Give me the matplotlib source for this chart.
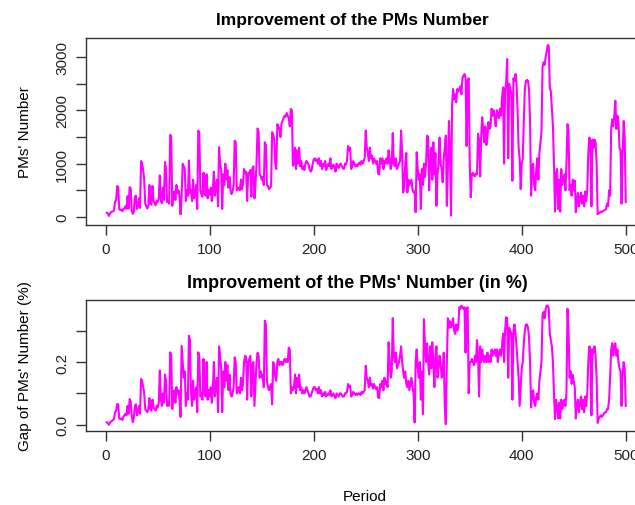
import matplotlib
matplotlib.use("Agg")
import matplotlib.pyplot as plt
import numpy as np

plt.rcParams["font.family"] = ["Liberation Sans", "DejaVu Sans"]

# Number of PMs per period
pms_number = [
    80, 70, 20, 60, 90, 100, 110, 120, 290, 310,
    580, 560, 150, 130, 140, 110, 150, 160, 200, 150,
    390, 160, 560, 540, 120, 60, 100, 380, 400, 150,
    200, 350, 170, 1050, 1000, 880, 700, 250, 200, 160,
    220, 600, 250, 230, 580, 300, 260, 220, 300, 280,
    350, 780, 300, 260, 550, 320, 1030, 900, 280, 300,
    250, 1540, 1500, 210, 450, 480, 320, 600, 450, 500,
    380, 50, 400, 1000, 950, 900, 300, 500, 400, 1060,
    450, 500, 300, 700, 350, 450, 600, 150, 1620, 1580,
    500, 420, 380, 830, 450, 400, 800, 350, 500, 420,
    550, 300, 500, 850, 400, 600, 700, 200, 1310, 1000,
    900, 150, 800, 600, 1000, 700, 880, 550, 750, 500,
    430, 480, 600, 1430, 1400, 500, 520, 550, 500, 700,
    520, 620, 900, 830, 850, 300, 820, 830, 880, 380,
    900, 950, 350, 600, 1000, 1660, 1600, 800, 770, 700,
    750, 600, 1400, 1350, 600, 580, 520, 550, 580, 1590,
    1550, 1450, 1000, 900, 1740, 1700, 1650, 1500, 1750, 1800,
    1850, 1900, 1880, 1950, 1900, 1850, 1700, 2025, 2000, 960,
    1000, 1300, 900, 1250, 1000, 1300, 950, 1050, 900, 950,
    880, 1000, 1050, 1020, 980, 900, 850, 880, 1000, 1080,
    1100, 1050, 1080, 1000, 1100, 960, 1050, 900, 1000, 950,
    1050, 880, 950, 1000, 950, 1100, 900, 950, 980, 920,
    850, 1000, 950, 920, 980, 1000, 950, 920, 900, 1000,
    980, 1050, 1330, 1250, 1300, 900, 950, 1050, 1000, 950,
    980, 950, 1000, 1020, 980, 1050, 1000, 1050, 1100, 1620,
    1300, 1200, 1050, 1300, 1100, 1150, 1000, 1100, 1050, 1000,
    1050, 810, 800, 1100, 1000, 1100, 900, 1050, 1000, 1100,
    1000, 1250, 1100, 900, 1000, 1575, 1000, 950, 1100, 900,
    950, 1000, 1050, 1620, 1200, 460, 550, 1000, 1200, 460,
    700, 600, 650, 700, 500, 460, 480, 90, 1214, 900,
    700, 800, 150, 900, 600, 1000, 750, 1000, 1525, 1500,
    500, 1100, 1300, 700, 1400, 800, 1200, 210, 800, 1000,
    1490, 1000, 900, 650, 1100, 1300, 1525, 210, 900, 1800,
    1200, 25, 2100, 2400, 2200, 2300, 2150, 2400, 2350, 2400,
    2450, 2300, 2600, 2650, 2680, 2600, 1330, 2550, 2600, 1000,
    370, 800, 830, 780, 760, 820, 800, 1560, 1440, 760,
    1500, 1870, 1600, 1400, 1700, 1350, 1500, 1780, 1650, 1700,
    2030, 1900, 2000, 1840, 1700, 2000, 1950, 1850, 2030, 1900,
    2200, 2430, 1000, 2400, 2500, 2960, 1100, 2500, 2400, 2300,
    680, 2600, 2550, 2680, 2500, 2000, 1300, 1100, 525, 1000,
    1100, 1800, 2400, 2550, 2570, 2550, 2400, 1800, 400, 900,
    1000, 600, 500, 900, 1100, 700, 1200, 1400, 1600, 2810,
    2900, 2850, 3000, 3100, 3225, 3200, 2430, 2350, 2030, 1710,
    1000, 100, 800, 900, 150, 700, 100, 900, 600, 700,
    800, 500, 1000, 1740, 1600, 500, 600, 400, 700, 500,
    680, 90, 300, 450, 200, 350, 460, 250, 400, 200,
    480, 300, 500, 1200, 1490, 1400, 200, 1450, 1300, 1450,
    1400, 1000, 50, 70, 80, 100, 90, 110, 120, 130,
    150, 250, 200, 500, 400, 1650, 1830, 1700, 1900, 2180,
    1650, 1900, 1800, 1300, 1250, 250, 1200, 1800, 1500, 280,
]

# Relative gap of the PMs number per period
pms_gap = [
    0.008, 0.005, 0.0, 0.006, 0.01, 0.012, 0.015, 0.02, 0.04, 0.045,
    0.066, 0.065, 0.02, 0.018, 0.02, 0.015, 0.025, 0.03, 0.035, 0.03,
    0.06, 0.035, 0.082, 0.075, 0.03, 0.008, 0.02, 0.06, 0.065, 0.03,
    0.04, 0.06, 0.035, 0.146, 0.14, 0.12, 0.1, 0.05, 0.045, 0.04,
    0.05, 0.085, 0.05, 0.045, 0.08, 0.055, 0.05, 0.045, 0.06, 0.055,
    0.07, 0.173, 0.08, 0.06, 0.1, 0.07, 0.16, 0.14, 0.06, 0.07,
    0.06, 0.231, 0.22, 0.05, 0.1, 0.11, 0.07, 0.12, 0.1, 0.11,
    0.08, 0.025, 0.252, 0.2, 0.15, 0.17, 0.06, 0.1, 0.08, 0.284,
    0.27, 0.1, 0.06, 0.14, 0.08, 0.1, 0.12, 0.04, 0.231, 0.22,
    0.09, 0.1, 0.08, 0.21, 0.1, 0.09, 0.2, 0.08, 0.11, 0.09,
    0.12, 0.07, 0.11, 0.2, 0.09, 0.13, 0.15, 0.04, 0.25, 0.22,
    0.18, 0.04, 0.17, 0.12, 0.2, 0.14, 0.19, 0.11, 0.16, 0.1,
    0.09, 0.1, 0.12, 0.215, 0.2, 0.1, 0.11, 0.12, 0.1, 0.15,
    0.11, 0.13, 0.2, 0.22, 0.215, 0.08, 0.2, 0.21, 0.22, 0.09,
    0.19, 0.2, 0.06, 0.13, 0.2, 0.23, 0.22, 0.15, 0.17, 0.15,
    0.16, 0.12, 0.332, 0.32, 0.14, 0.12, 0.11, 0.12, 0.13, 0.065,
    0.2, 0.19, 0.15, 0.14, 0.2, 0.21, 0.19, 0.2, 0.2, 0.19,
    0.2, 0.21, 0.2, 0.21, 0.2, 0.246, 0.24, 0.1, 0.12, 0.11,
    0.12, 0.16, 0.1, 0.15, 0.12, 0.16, 0.11, 0.12, 0.1, 0.11,
    0.1, 0.11, 0.12, 0.11, 0.1, 0.09, 0.09, 0.1, 0.11, 0.12,
    0.12, 0.11, 0.115, 0.1, 0.12, 0.1, 0.11, 0.09, 0.1, 0.095,
    0.105, 0.09, 0.095, 0.1, 0.095, 0.11, 0.09, 0.095, 0.1, 0.09,
    0.085, 0.1, 0.095, 0.09, 0.1, 0.1, 0.095, 0.09, 0.09, 0.1,
    0.1, 0.105, 0.13, 0.12, 0.125, 0.09, 0.095, 0.105, 0.1, 0.095,
    0.1, 0.095, 0.1, 0.1, 0.095, 0.105, 0.1, 0.105, 0.11, 0.188,
    0.15, 0.14, 0.12, 0.15, 0.125, 0.13, 0.115, 0.13, 0.12, 0.114,
    0.12, 0.087, 0.085, 0.13, 0.12, 0.14, 0.11, 0.15, 0.13, 0.14,
    0.12, 0.263, 0.2, 0.15, 0.17, 0.34, 0.22, 0.2, 0.23, 0.18,
    0.19, 0.2, 0.22, 0.25, 0.2, 0.17, 0.15, 0.17, 0.13, 0.12,
    0.14, 0.11, 0.13, 0.15, 0.12, 0.1, 0.007, 0.2, 0.24, 0.18,
    0.15, 0.2, 0.08, 0.17, 0.034, 0.337, 0.25, 0.2, 0.26, 0.2,
    0.16, 0.25, 0.18, 0.263, 0.2, 0.12, 0.22, 0.25, 0.15, 0.18,
    0.22, 0.2, 0.15, 0.16, 0.23, 0.06, 0.002, 0.2, 0.34, 0.31,
    0.33, 0.31, 0.32, 0.34, 0.3, 0.29, 0.32, 0.3, 0.31, 0.375,
    0.37, 0.38, 0.375, 0.37, 0.375, 0.23, 0.37, 0.375, 0.1, 0.2,
    0.2, 0.21, 0.2, 0.19, 0.22, 0.2, 0.27, 0.22, 0.09, 0.25,
    0.2, 0.24, 0.21, 0.2, 0.22, 0.2, 0.23, 0.2, 0.22, 0.2,
    0.24, 0.22, 0.23, 0.24, 0.22, 0.24, 0.2, 0.23, 0.24, 0.22,
    0.25, 0.29, 0.2, 0.3, 0.343, 0.34, 0.15, 0.31, 0.3, 0.29,
    0.08, 0.3, 0.32, 0.29, 0.25, 0.2, 0.15, 0.06, 0.12, 0.18,
    0.2, 0.26, 0.3, 0.32, 0.32, 0.31, 0.28, 0.2, 0.055, 0.1,
    0.11, 0.07, 0.06, 0.09, 0.1, 0.08, 0.14, 0.17, 0.2, 0.35,
    0.36, 0.34, 0.37, 0.38, 0.38, 0.37, 0.29, 0.27, 0.25, 0.2,
    0.1, 0.018, 0.08, 0.06, 0.02, 0.07, 0.02, 0.08, 0.05, 0.07,
    0.08, 0.06, 0.1, 0.37, 0.3, 0.15, 0.17, 0.13, 0.16, 0.14,
    0.12, 0.02, 0.06, 0.08, 0.04, 0.07, 0.09, 0.05, 0.08, 0.04,
    0.09, 0.06, 0.1, 0.2, 0.25, 0.24, 0.03, 0.24, 0.23, 0.25,
    0.22, 0.15, 0.006, 0.02, 0.025, 0.03, 0.025, 0.03, 0.035, 0.04,
    0.04, 0.05, 0.05, 0.08, 0.15, 0.24, 0.26, 0.22, 0.25, 0.26,
    0.22, 0.24, 0.2, 0.18, 0.17, 0.06, 0.16, 0.2, 0.18, 0.06,
]

periods = np.arange(1, len(pms_number) + 1)

x_ticks = [0, 100, 200, 300, 400, 500]
top_ticks = [0, 500, 1000, 1500, 2000, 2500, 3000]
top_labels = ["0", "", "1000", "", "2000", "", "3000"]
bottom_ticks = [0.0, 0.1, 0.2, 0.3]
bottom_labels = ["0.0", "", "0.2", ""]

LINE = "#FF00FF"
W, H = 635, 506
fig = plt.figure(figsize=(W / 100, H / 100), dpi=100)

ax_left = 86 / W
ax_width = 560.5 / W
ax1 = fig.add_axes([ax_left, 1 - 226 / H, ax_width, 187 / H])
ax2 = fig.add_axes([ax_left, 1 - 432 / H, ax_width, 131 / H])


def style(ax, yticks, ylabels):
    ax.set_xlim(-18.96, 519.96)
    ax.set_xticks(x_ticks)
    ax.set_xticklabels([str(v) for v in x_ticks])
    ax.set_yticks(yticks)
    ax.set_yticklabels(ylabels, rotation=90, va="center")
    ax.tick_params(axis="both", direction="out", length=7, width=1,
                   color="#333333", labelsize=11, labelcolor="#222222", pad=5)
    for s in ax.spines.values():
        s.set_color("#333333")
        s.set_linewidth(1)


ax1.plot(periods, pms_number, color=LINE, lw=1.5)
ax1.set_ylim(-150, 3356)
style(ax1, top_ticks, top_labels)
ax1.set_ylabel("PMs' Number", fontsize=11, labelpad=17)

ax2.plot(periods, pms_gap, color=LINE, lw=1.5)
ax2.set_ylim(-0.020, 0.398)
style(ax2, bottom_ticks, bottom_labels)
ax2.set_ylabel("Gap of PMs' Number (%)", fontsize=11, labelpad=17)

fig.text(352 / W, 1 - 20 / H, "Improvement of the PMs Number",
         ha="center", va="center", fontsize=12.5, fontweight="bold")
fig.text(357 / W, 1 - 284 / H, "Improvement of the PMs' Number (in %)",
         ha="center", va="center", fontsize=13, fontweight="bold")
fig.text(365 / W, 1 - 497 / H, "Period", ha="center", va="center", fontsize=11)

fig.savefig("out.png", dpi=100, facecolor="white")
